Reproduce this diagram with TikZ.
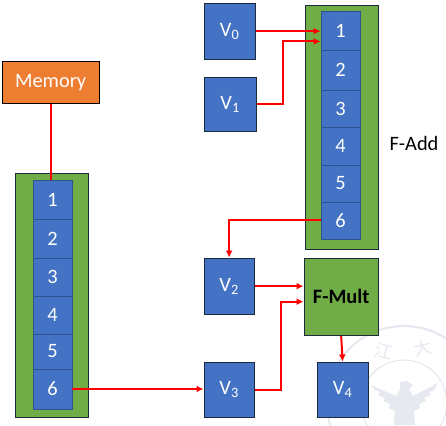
\documentclass[tikz,border=0pt]{standalone}
\usepackage{fontspec}
\setmainfont{Carlito}
\newfontfamily\cjk{Noto Sans CJK SC}
\usetikzlibrary{arrows.meta,calc}
\definecolor{ablue}{HTML}{4472C4}
\definecolor{agreen}{HTML}{70AD47}
\definecolor{aorange}{HTML}{ED7D31}
\definecolor{cellline}{HTML}{2F528F}
\definecolor{boxline}{HTML}{1C2A3E}
\definecolor{wm}{HTML}{E6E9EF}
\tikzset{
  x=1bp,y=-1bp,
  box/.style={draw=boxline,line width=1.3bp,fill=ablue,text=white,inner sep=0pt,font=\fontsize{20.5}{22}\selectfont},
  cellbox/.style={draw=cellline,line width=0.9bp,fill=ablue,text=white,inner sep=0pt,minimum width=39bp,font=\fontsize{20.5}{22}\selectfont},
  greenbox/.style={draw=boxline,line width=1.3bp,fill=agreen,inner sep=0pt},
  memorybox/.style={draw=black,line width=1.3bp,fill=aorange,text=white,inner sep=0pt,font=\fontsize{20.5}{22}\selectfont},
  link/.style={draw=red,line width=2bp},
  arrowlink/.style={link,-{Latex[length=7bp,width=7bp]}},
  wmouter/.style={draw=wm,line width=2.2bp},
  wminner/.style={draw=wm,line width=1.2bp},
  wmtext/.style={text=wm,inner sep=0pt,font=\cjk\fontsize{18}{18}\selectfont},
}
\newcommand{\place}[6][box]{\node[#1,minimum width=#4bp-#2bp,minimum height=#5bp-#3bp,anchor=north west] (#6) at (#2-0.5,#3-0.5)}
\begin{document}
\begin{tikzpicture}
\useasboundingbox (0,0) rectangle (446,425);
% watermark
\begin{scope}
\clip (0,0) rectangle (446,425);
\draw[wmouter] (404,403) circle (77);
\draw[wminner] (404,403) circle (43);
\node[wmtext,rotate=-15] (wm1) at (384,351) {江};
\node[wmtext,rotate=12] (wm2) at (423,348) {大};
\fill[wm] (400,382) -- (407,381) -- (413,385) -- (409,389) -- (413,396) -- (438,383) -- (434,390) -- (429,392) -- (431,395) -- (424,398) -- (426,401) -- (419,404) -- (420,408) -- (414,411) -- (415,425) -- (394,425) -- (395,411) -- (389,408) -- (390,404) -- (383,401) -- (385,398) -- (378,395) -- (380,392) -- (375,390) -- (371,385) -- (396,396) -- (400,389) -- cycle;
\end{scope}
% left stack
\place[greenbox]{15}{173}{88}{417}{lstack} {};
\place[cellbox]{33}{180}{72}{219}{l1} {1};
\place[cellbox]{33}{219}{72}{258}{l2} {2};
\place[cellbox]{33}{258}{72}{296}{l3} {3};
\place[cellbox]{33}{296}{72}{334}{l4} {4};
\place[cellbox]{33}{334}{72}{369}{l5} {5};
\place[cellbox]{33}{369}{72}{409}{l6} {6};
% right stack
\place[greenbox]{305}{5}{378}{249}{rstack} {};
\place[cellbox]{321}{11}{360}{50}{r1} {1};
\place[cellbox]{321}{50}{360}{90}{r2} {2};
\place[cellbox]{321}{90}{360}{127}{r3} {3};
\place[cellbox]{321}{127}{360}{165}{r4} {4};
\place[cellbox]{321}{165}{360}{202}{r5} {5};
\place[cellbox]{321}{202}{360}{239}{r6} {6};
% registers
\place{204}{3}{255}{59}{v0} {V\textsubscript{0}};
\place{204}{77}{256}{131}{v1} {V\textsubscript{1}};
\place{204}{258}{254}{314}{v2} {V\textsubscript{2}};
\place{204}{362}{254}{417}{v3} {V\textsubscript{3}};
\place{317}{362}{368}{417}{v4} {V\textsubscript{4}};
\place[greenbox]{304}{258}{378}{335}{fmult} {\fontsize{20.5}{22}\selectfont\bfseries F-Mult};
\place[memorybox]{2}{61}{99}{103}{memory} {Memory};
\node[anchor=center,inner sep=0pt,font=\fontsize{20.5}{22}\selectfont] (fadd) at (414,143) {F-Add};
% helper points
\coordinate (r1a) at ($(r1.west)+(0,11)$);
\coordinate (fm2) at ($(fmult.west)+(0,5)$);
% connectors
\draw[link] (memory.south) -- (memory.south |- l1.north);
\draw[arrowlink] (v0.east) -- (v0.east -| r1.west);
\draw[arrowlink] (v1.east) -- ++(26,0) |- (r1a);
\draw[arrowlink] (r6.west) -| (v2.north);
\draw[arrowlink] (v2.east) -- (v2.east -| fmult.west);
\draw[arrowlink] (v3.east) -- ++(26,0) |- (fm2);
\draw[arrowlink] (fmult.south) -- (v4.north);
\draw[arrowlink] (l6.east) -- (l6.east -| v3.west);
\end{tikzpicture}
\end{document}
